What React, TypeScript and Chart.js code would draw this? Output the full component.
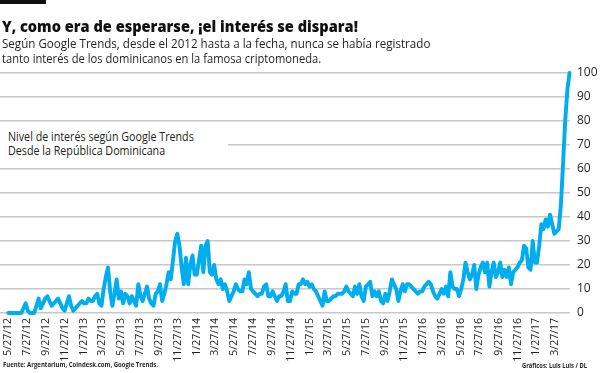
import React, { useEffect, useLayoutEffect, useRef, useState } from "react";
import { Chart, registerables } from "chart.js";

Chart.register(...registerables);

// First week of the weekly series (Google Trends, weeks starting Sunday)
const startWeek = "5/27/12";

const tickLabels = [
  "5/27/12", "7/27/12", "9/27/12", "11/27/12",
  "1/27/13", "3/27/13", "5/27/13", "7/27/13", "9/27/13", "11/27/13",
  "1/27/14", "3/27/14", "5/27/14", "7/27/14", "9/27/14", "11/27/14",
  "1/27/15", "3/27/15", "5/27/15", "7/27/15", "9/27/15", "11/27/15",
  "1/27/16", "3/27/16", "5/27/16", "7/27/16", "9/27/16", "11/27/16",
  "1/27/17", "3/27/17",
];

// Weekly interest values (0-100)
const interest = [
  0, 0, 0, 0, 0, 0, 0, 2, 4, 1,
  0, 0, 0, 3, 6, 2, 4, 6, 7, 5,
  3, 4, 5, 6, 4, 2, 1, 4, 7, 3,
  1, 2, 3, 4, 5, 4, 4, 6, 5, 5,
  7, 8, 4, 3, 10, 15, 19, 9, 3, 8,
  14, 6, 9, 4, 8, 7, 4, 7, 5, 3,
  12, 7, 5, 8, 11, 6, 4, 3, 8, 9,
  12, 5, 8, 12, 17, 14, 22, 30, 33, 28,
  19, 12, 23, 12, 20, 24, 16, 16, 22, 28,
  17, 28, 30, 17, 16, 20, 14, 12, 14, 10,
  12, 9, 5, 7, 9, 12, 10, 9, 9, 14,
  12, 17, 10, 9, 8, 7, 8, 8, 11, 12,
  7, 7, 9, 7, 5, 7, 7, 9, 12, 5,
  5, 9, 8, 8, 12, 12, 14, 12, 13, 11,
  12, 10, 9, 7, 5, 3, 9, 5, 5, 6,
  7, 7, 8, 8, 8, 9, 11, 9, 8, 7,
  11, 8, 12, 7, 5, 11, 12, 13, 7, 9,
  7, 9, 5, 4, 8, 5, 9, 14, 12, 10,
  5, 9, 12, 9, 12, 12, 11, 10, 9, 8,
  9, 9, 11, 12, 13, 12, 9, 7, 6, 8,
  10, 8, 11, 7, 17, 11, 10, 10, 7, 10,
  14, 21, 17, 14, 16, 20, 10, 16, 19, 21,
  17, 21, 11, 17, 21, 15, 17, 21, 15, 18,
  15, 19, 12, 17, 18, 19, 21, 22, 28, 27,
  19, 18, 30, 21, 21, 28, 37, 35, 39, 36,
  41, 37, 33, 34, 35, 45, 62, 80, 93, 100,
];

const title = "Y, como era de esperarse, ¡el interés se dispara!";
const subtitle1 = "Según Google Trends, desde el 2012 hasta a la fecha, nunca se había registrado";
const subtitle2 = "tanto interés de los dominicanos en la famosa criptomoneda.";
const note1 = "Nivel de interés según Google Trends";
const note2 = "Desde la República Dominicana";
const source = "Fuente: Argentarium, Coindesk.com, Google Trends.";
const credit = "Gráficos: Luis Luis / DL";

function parseDate(s: string) {
  const [m, d, y] = s.split("/").map(Number);
  return Date.UTC(2000 + y, m - 1, d);
}
function weeksFromStart(s: string) {
  return (parseDate(s) - parseDate(startWeek)) / (7 * 86400000);
}

const FONT = "'Open Sans', 'DejaVu Sans', sans-serif";

function FitText(props: {
  text: string; left: number; baseline: number; width: number;
  size: number; weight?: number; color?: string;
}) {
  const ref = useRef<HTMLSpanElement>(null);
  const [scale, setScale] = useState(1);
  useLayoutEffect(() => {
    const el = ref.current;
    if (!el) return;
    const w = el.offsetWidth;
    if (w > 0) setScale(props.width / w);
  }, [props.text, props.width]);
  return (
    <span
      ref={ref}
      style={{
        position: "absolute",
        left: props.left,
        top: props.baseline - 0.888 * props.size,
        fontFamily: FONT,
        fontSize: props.size,
        lineHeight: `${props.size}px`,
        fontWeight: props.weight ?? 400,
        color: props.color ?? "#231f20",
        whiteSpace: "nowrap",
        transform: `scaleX(${scale})`,
        transformOrigin: "left center",
      }}
    >
      {props.text}
    </span>
  );
}

export default function App() {
  const canvasRef = useRef<HTMLCanvasElement>(null);

  useEffect(() => {
    const canvas = canvasRef.current;
    if (!canvas) return;
    const tickPositions = tickLabels.map(weeksFromStart);
    const pxPerWeek = 9.39 * 12 / 52;
    const xMin = -8.3 / pxPerWeek;
    const xMax = xMin + 570 / pxPerWeek;

    const chart = new Chart(canvas, {
      type: "line",
      data: {
        datasets: [
          {
            data: interest.map((v, i) => ({ x: i, y: v })),
            borderColor: "#00adef",
            borderWidth: 3.9,
            pointRadius: 0,
            tension: 0,
            borderJoinStyle: "round",
            borderCapStyle: "round",
            clip: false as any,
          },
        ],
      },
      options: {
        animation: false,
        responsive: false,
        devicePixelRatio: 1,
        layout: { padding: { top: 73, left: 0, right: 0, bottom: 0 } },
        plugins: { legend: { display: false }, tooltip: { enabled: false } },
        scales: {
          x: {
            type: "linear",
            min: xMin,
            max: xMax,
            grid: { display: false, drawTicks: false },
            border: { display: false },
            afterBuildTicks: (scale: any) => {
              scale.ticks = tickPositions.map((v) => ({ value: v }));
            },
            afterFit: (scale: any) => {
              scale.height = 60;
            },
            ticks: {
              autoSkip: false,
              maxRotation: 90,
              minRotation: 90,
              padding: 5,
              color: "#231f20",
              font: { family: FONT, size: 10.5 },
              callback: (_v: any, i: number) => tickLabels[i],
            },
          },
          y: {
            position: "right",
            min: 0,
            max: 100,
            grid: { color: "#c8c8c8", lineWidth: 1.4, drawTicks: false },
            border: { display: false },
            afterFit: (scale: any) => {
              scale.width = 30;
            },
            ticks: {
              stepSize: 10,
              padding: 7,
              color: "#231f20",
              font: { family: FONT, size: 12 },
            },
          },
        },
      },
    });
    return () => chart.destroy();
  }, []);

  return (
    <div
      style={{
        position: "fixed",
        left: 0,
        top: 0,
        width: 600,
        height: 373,
        background: "#ffffff",
        overflow: "hidden",
      }}
    >
      <canvas
        ref={canvasRef}
        width={600}
        height={373}
        style={{ position: "absolute", left: 0, top: 0, width: 600, height: 373 }}
      />
      <div style={{ position: "absolute", left: 0, top: 0, width: 46, height: 4, background: "#111" }} />
      <FitText text={title} left={1.5} baseline={33} width={356} size={16.5} weight={800} color="#111" />
      <FitText text={subtitle1} left={1.5} baseline={49} width={428} size={13} />
      <FitText text={subtitle2} left={1.5} baseline={63.5} width={319} size={13} />
      <div style={{ position: "absolute", left: 0, top: 126, width: 228, height: 34, background: "#fff" }} />
      <FitText text={note1} left={8.3} baseline={141.7} width={186} size={12.5} />
      <FitText text={note2} left={8.3} baseline={155.7} width={157} size={12.5} />
      <FitText text={source} left={3.3} baseline={367.7} width={155} size={7.5} weight={700} />
      <FitText text={credit} left={521.7} baseline={369} width={65} size={7.5} weight={700} />
    </div>
  );
}
